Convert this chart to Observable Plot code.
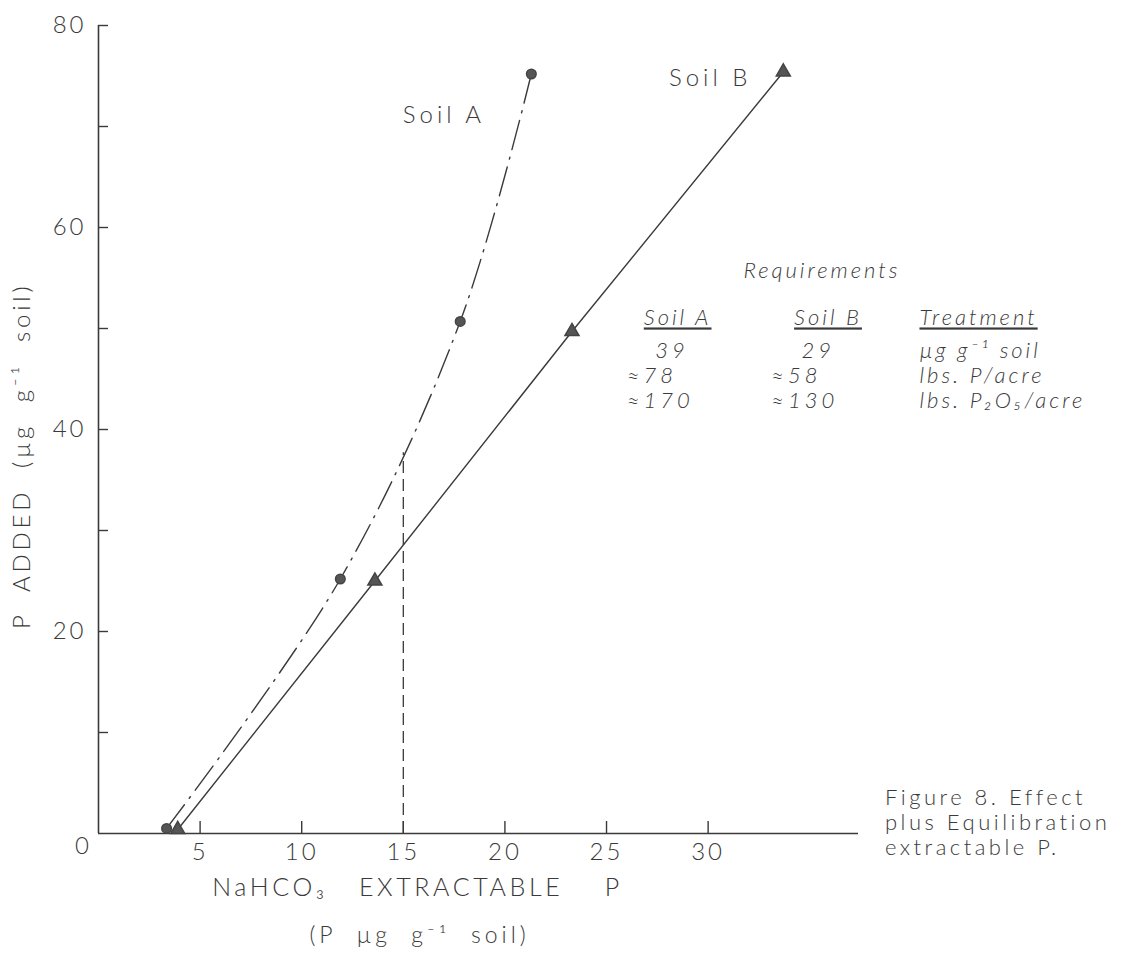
<!DOCTYPE html>
<html><head><meta charset="utf-8">
<script src="https://cdn.jsdelivr.net/npm/d3@7"></script>
<script src="https://cdn.jsdelivr.net/npm/@observablehq/plot@0.6"></script>
<style>
body{margin:0;background:#fff}
svg text{letter-spacing:3px;font-weight:300}
</style>
</head><body><div id="chart"></div>
<script>
// ---- data ----
const soilA_x = [3.35, 11.9, 17.8, 21.3];
const soilA_y = [0.5, 25.2, 50.7, 75.2];
const soilB_x = [3.9, 13.6, 23.3, 33.7];
const soilB_y = [0.4, 25.0, 49.7, 75.4];
const guideX = [15];
const guideTop = [37.7];
const xTicks = [5, 10, 15, 20, 25, 30];
const yTicks = [10, 20, 30, 40, 50, 60, 70, 80];
const yTickLabels = [20, 40, 60, 80];
const seriesNames = ["Soil A", "Soil B"];
const tableTitle = "Requirements";
const tableHeaders = ["Soil A", "Soil B", "Treatment"];
const soilAReq = ["39", "≈78", "≈170"];
const soilBReq = ["29", "≈58", "≈130"];
const treatmentUnits = ["µg g⁻¹ soil", "lbs. P/acre", "lbs. P₂O₅/acre"];
const xTitle = "NaHCO₃   EXTRACTABLE    P";
const xSubTitle = "(P  µg  g⁻¹  soil)";
const yTitle = "P  ADDED  (µg  g⁻¹  soil)";
const captionLines = ["Figure 8. Effect", "plus Equilibration", "extractable P."];

// ---- layout (placement only) ----
const nb = s => s.replace(/ /g, "\u00a0");
const A = soilA_x.map((x, i) => ({x, y: soilA_y[i]}));
const B = soilB_x.map((x, i) => ({x, y: soilB_y[i]}));
const guide = guideX.map((x, i) => ({x, y: guideTop[i]}));
const seriesLabelPos = [{x: 17.0, y: 71.1}, {x: 30.1, y: 74.8}];
const colX = [28.5, 35.9, 40.4];      // header centres / treatment start
const numStartX = [26.0, 33.1];       // start of value columns
const firstRowIndent = [1.4, 1.5];    // first row is indented
const headerY = 51.0;
const rowY = [47.8, 45.3, 42.8];
const tableTitleX = 35.6, tableTitleY = 55.7;

const ink = "#3a3a3a";
const font = "Lato, 'DejaVu Sans', sans-serif";

const numCells = [];
[soilAReq, soilBReq].forEach((col, c) => col.forEach((t, i) =>
  numCells.push({x: numStartX[c] + (i === 0 ? firstRowIndent[c] : 0), y: rowY[i], t})));
const unitCells = treatmentUnits.map((t, i) => ({x: colX[2], y: rowY[i], t}));
const headerCells = tableHeaders.map((t, i) => ({x: colX[i], y: headerY, t}));

const chart = Plot.plot({
  width: 1127, height: 961,
  marginLeft: 98, marginRight: 269, marginTop: 25, marginBottom: 128,
  x: {domain: [0, 37.4], label: null},
  y: {domain: [0, 80], label: null},
  style: {fontFamily: font, color: ink, background: "#fff", overflow: "visible"},
  marks: [
    // axis lines
    Plot.ruleX([0], {stroke: ink, strokeWidth: 1.6}),
    Plot.ruleY([0], {stroke: ink, strokeWidth: 1.6}),
    // inward ticks
    Plot.axisY({ticks: yTicks, tickSize: 10, dx: 10, tickFormat: () => "", label: null, stroke: ink, strokeWidth: 1.4}),
    Plot.axisX({ticks: xTicks, tickSize: 12, dy: -12, tickFormat: () => "", label: null, stroke: ink, strokeWidth: 1.4}),
    // tick labels
    Plot.axisY({ticks: yTickLabels, tickSize: 0, tickPadding: 12, fontSize: 24, fill: ink, label: null}),
    Plot.axisX({ticks: xTicks, tickSize: 0, tickPadding: 9, fontSize: 24, fill: ink, label: null}),
    Plot.text([0], {x: d => d, frameAnchor: "bottom", dx: -15, dy: 20, text: d => String(d), fontSize: 24, fill: ink}),
    // guide
    Plot.ruleX(guide, {x: "x", y1: 0, y2: "y", stroke: ink, strokeWidth: 1.3, strokeDasharray: "12,6"}),
    // series
    Plot.line(A, {x: "x", y: "y", curve: "catmull-rom", stroke: ink, strokeWidth: 1.4, strokeDasharray: "30,8,2,8"}),
    Plot.line(B, {x: "x", y: "y", stroke: ink, strokeWidth: 1.4}),
    Plot.dot(A, {x: "x", y: "y", r: 4.8, fill: "#555", stroke: "#444", symbol: "circle"}),
    Plot.dot(B, {x: "x", y: "y", r: 5.2, fill: "#555", stroke: "#444", symbol: "triangle"}),
    // series labels
    Plot.text(seriesNames, {x: (d, i) => seriesLabelPos[i].x, y: (d, i) => seriesLabelPos[i].y, text: d => nb(d), fontSize: 24, fill: ink, ariaDescription: "series"}),
    // table
    Plot.text([tableTitle], {x: () => tableTitleX, y: () => tableTitleY, text: d => d, fontSize: 22, fontStyle: "italic", fill: ink}),
    Plot.text(headerCells.slice(0, 2), {x: "x", y: "y", text: d => nb(d.t), textAnchor: "middle", fontSize: 22, fontStyle: "italic", fill: ink, ariaDescription: "header"}),
    Plot.text(headerCells.slice(2), {x: "x", y: "y", text: d => nb(d.t), textAnchor: "start", fontSize: 22, fontStyle: "italic", fill: ink, ariaDescription: "header"}),
    Plot.text(numCells, {x: "x", y: "y", text: d => d.t, textAnchor: "start", fontSize: 22, fontStyle: "italic", fill: ink, ariaDescription: "nums"}),
    Plot.text(unitCells, {x: "x", y: "y", text: d => nb(d.t), textAnchor: "start", fontSize: 22, fontStyle: "italic", fill: ink}),
    // caption
    Plot.text([captionLines.map(nb).join("\n")], {x: () => 38.7, y: () => 1.1, text: d => d, textAnchor: "start", lineAnchor: "middle", lineHeight: 1.14, fontSize: 22, fill: ink, ariaDescription: "caption"}),
    // axis titles
    Plot.text([nb(xTitle)], {x: () => 15.7, frameAnchor: "bottom", dy: 62, text: d => d, fontSize: 25, fill: ink, ariaDescription: "xtitle"}),
    Plot.text([nb(xSubTitle)], {x: () => 15.8, frameAnchor: "bottom", dy: 109, text: d => d, fontSize: 23, fill: ink, ariaDescription: "xsub"}),
    Plot.text([nb(yTitle)], {y: () => 37.4, frameAnchor: "left", textAnchor: "middle", dx: -76, rotate: -90, text: d => d, fontSize: 24, fill: ink, ariaDescription: "ytitle"})
  ]
});

const svg = d3.select(chart);
svg.selectAll('g[aria-description="header"] text').attr("text-decoration", "underline");
svg.selectAll('g[aria-description="nums"] text').style("letter-spacing", "4px");
svg.selectAll('g[aria-description="caption"] text').style("letter-spacing", "3.5px");
svg.selectAll('g[aria-description="series"] text').style("letter-spacing", "4px");
svg.selectAll('g[aria-description="xtitle"] text').style("letter-spacing", "3.6px");
svg.selectAll('g[aria-description="xsub"] text').style("letter-spacing", "4px");
svg.selectAll('g[aria-description="ytitle"] text').style("letter-spacing", "3.8px");
document.getElementById("chart").appendChild(chart);
</script>
</body></html>
